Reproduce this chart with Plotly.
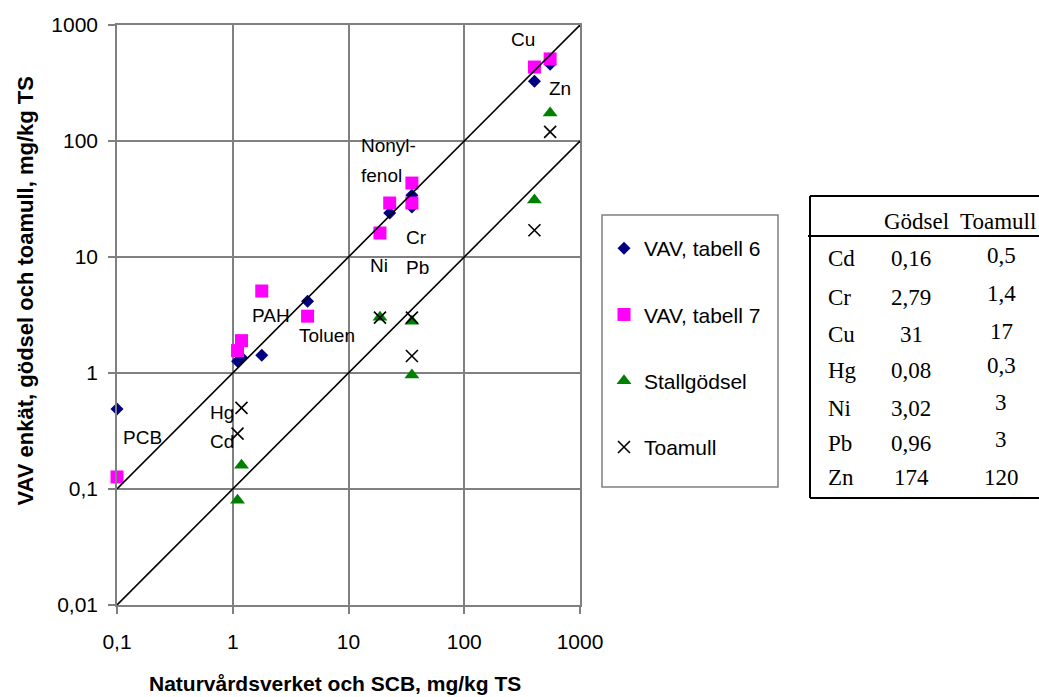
import numpy as np
import plotly.graph_objects as go

# ---------------- data ----------------
# VAV enkät, tabell 6 (x = Naturvårdsverket/SCB, y = VAV)
tab6_x = [0.1, 1.10, 1.19, 1.78, 4.43, 22.7, 35.3, 35.3, 404, 552]
tab6_y = [0.49, 1.26, 1.36, 1.42, 4.15, 23.9, 34, 27, 327, 458]

# VAV enkät, tabell 7
tab7_x = [0.1, 1.19, 1.10, 1.78, 4.43, 18.7, 22.7, 35.3, 35.3, 404, 552]
tab7_y = [0.127, 1.90, 1.56, 5.09, 3.09, 16.1, 29.2, 43.4, 29.2, 434, 510]

# Metals: Stallgödsel and Toamull
metals = ["Cd", "Cr", "Cu", "Hg", "Ni", "Pb", "Zn"]
metal_nv = [1.19, 35.3, 404, 1.10, 18.7, 35.3, 552]
godsel = [0.16, 2.79, 31, 0.08, 3.02, 0.96, 174]
toamull = [0.5, 1.4, 17, 0.3, 3, 3, 120]

# reference lines y = x and y = x/10
ref_x = [0.1, 1000]
ref_y1 = [0.1, 1000]
ref_y2 = [0.01, 100]

x_ticks = [0.1, 1, 10, 100, 1000]
x_ticktext = ["0,1", "1", "10", "100", "1000"]
y_ticks = [0.01, 0.1, 1, 10, 100, 1000]
y_ticktext = ["0,01", "0,1", "1", "10", "100", "1000"]

# point labels (text, x, y, anchor)
lbl_text = ["Cu", "Zn", "Nonyl-", "fenol", "Cr", "Ni", "Pb", "PAH", "Toluen", "PCB", "Hg", "Cd"]
lbl_x = [323, 520, 12.2, 12.2, 30.4, 14.8, 30.4, 1.40, 3.56, 0.109, 0.611, 0.611]
lbl_y = [745, 286, 91.8, 50.6, 14.7, 8.4, 8.07, 3.14, 2.11, 0.276, 0.458, 0.258]
lbl_anchor = ["center"] + ["left"] * 11

# ---------------- layout geometry ----------------
W, H = 1039, 697
ML, MR, MT, MB = 117, 459, 25, 92
PW, PH = W - ML - MR, H - MT - MB


def pxx(px):
    return (px - ML) / PW


def pxy(py):
    return (H - MB - py) / PH


SANS = "Liberation Sans, Arial, sans-serif"
SERIF = "Liberation Serif, Times New Roman, serif"
GRID = "#808080"


def fmt(v):
    return f"{v:g}".replace(".", ",")


fig = go.Figure()

fig.add_trace(go.Scatter(
    x=tab6_x, y=tab6_y, mode="markers", name="VAV, tabell 6",
    legendgroup="a",
    marker=dict(symbol="diamond", size=10, color="#000080"),
    cliponaxis=False))
fig.add_trace(go.Scatter(
    x=tab7_x, y=tab7_y, mode="markers", name="VAV, tabell 7",
    legendgroup="b",
    marker=dict(symbol="square", size=13, color="#FF00FF"),
    cliponaxis=False))
fig.add_trace(go.Scatter(
    x=metal_nv, y=godsel, mode="markers", name="Stallgödsel",
    legendgroup="c",
    marker=dict(symbol="triangle-up", size=13, color="#008000"),
    cliponaxis=False))
fig.add_trace(go.Scatter(
    x=metal_nv, y=toamull, mode="markers", name="Toamull",
    legendgroup="d",
    marker=dict(symbol="x-thin-open", size=12, color="black",
                line=dict(color="black", width=1.6)),
    cliponaxis=False))
fig.add_trace(go.Scatter(
    x=ref_x, y=ref_y1, mode="lines", showlegend=False,
    line=dict(color="black", width=1.6), hoverinfo="skip"))
fig.add_trace(go.Scatter(
    x=ref_x, y=ref_y2, mode="lines", showlegend=False,
    line=dict(color="black", width=1.6), hoverinfo="skip"))

annotations = []
for t, x, y, a in zip(lbl_text, lbl_x, lbl_y, lbl_anchor):
    annotations.append(dict(
        x=np.log10(x), y=np.log10(y), xref="x", yref="y", text=t,
        showarrow=False, xanchor=a, yanchor="middle",
        font=dict(family=SANS, size=19, color="black")))

# axis titles
annotations.append(dict(
    x=pxx(335), y=pxy(684), xref="paper", yref="paper",
    text="<b>Naturvårdsverket och SCB, mg/kg TS</b>", showarrow=False,
    xanchor="center", yanchor="middle",
    font=dict(family=SANS, size=21, color="black")))
annotations.append(dict(
    x=pxx(25), y=pxy(508), xref="paper", yref="paper",
    text="<b>VAV enkät, gödsel och toamull, mg/kg TS</b>", showarrow=False,
    textangle=-90, xanchor="center", yanchor="bottom",
    font=dict(family=SANS, size=22, color="black")))

# table
TFONT = dict(family=SERIF, size=23, color="black")
annotations.append(dict(x=pxx(916), y=pxy(221), xref="paper", yref="paper",
                        text="Gödsel", showarrow=False, xanchor="center",
                        yanchor="middle", font=TFONT))
annotations.append(dict(x=pxx(958), y=pxy(221), xref="paper", yref="paper",
                        text="Toamull", showarrow=False, xanchor="left",
                        yanchor="middle", font=TFONT))
row_y = [258, 297, 334, 370, 408, 443, 477]
row_y2 = [255, 293, 331, 365, 402, 440, 477]
for m, g, t, ry, ry2 in zip(metals, godsel, toamull, row_y, row_y2):
    annotations.append(dict(x=pxx(826), y=pxy(ry), xref="paper", yref="paper",
                            text=m, showarrow=False, xanchor="left",
                            yanchor="middle", font=TFONT))
    annotations.append(dict(x=pxx(911), y=pxy(ry), xref="paper", yref="paper",
                            text=fmt(g), showarrow=False, xanchor="center",
                            yanchor="middle", font=TFONT))
    annotations.append(dict(x=pxx(1001), y=pxy(ry2), xref="paper", yref="paper",
                            text=fmt(t), showarrow=False, xanchor="center",
                            yanchor="middle", font=TFONT))

shapes = [
    # legend frame
    dict(type="rect", xref="paper", yref="paper",
         x0=pxx(602), x1=pxx(778), y0=pxy(215), y1=pxy(487),
         line=dict(color=GRID, width=1.5), fillcolor="rgba(0,0,0,0)"),
    # table lines
    dict(type="line", xref="paper", yref="paper",
         x0=pxx(810), x1=pxx(810), y0=pxy(196), y1=pxy(498),
         line=dict(color="black", width=2)),
    dict(type="line", xref="paper", yref="paper",
         x0=pxx(810), x1=pxx(1045), y0=pxy(196), y1=pxy(196),
         line=dict(color="black", width=2)),
    dict(type="line", xref="paper", yref="paper",
         x0=pxx(808), x1=pxx(1045), y0=pxy(236), y1=pxy(236),
         line=dict(color="black", width=2)),
    dict(type="line", xref="paper", yref="paper",
         x0=pxx(810), x1=pxx(1045), y0=pxy(498), y1=pxy(498),
         line=dict(color="black", width=2)),
]

axis_common = dict(
    type="log", showgrid=True, gridcolor=GRID, gridwidth=1.5,
    showline=True, linecolor=GRID, linewidth=1.5, mirror=True,
    ticks="outside", ticklen=7, tickcolor=GRID, tickwidth=1.5,
    zeroline=False,
    tickfont=dict(family=SANS, size=21, color="black"),
)

fig.update_layout(
    width=W, height=H,
    margin=dict(l=ML, r=MR, t=MT, b=MB, pad=0),
    paper_bgcolor="white", plot_bgcolor="white",
    showlegend=True,
    legend=dict(
        x=pxx(604), y=pxy(228), xanchor="left", yanchor="top",
        xref="paper", yref="paper",
        bgcolor="rgba(0,0,0,0)", borderwidth=0,
        traceorder="grouped", tracegroupgap=36,
        font=dict(family=SANS, size=21, color="black"),
    ),
    xaxis=dict(range=[-1, 3], tickvals=x_ticks, ticktext=x_ticktext,
               ticklabelstandoff=10, **axis_common),
    yaxis=dict(range=[-2, 3], tickvals=y_ticks, ticktext=y_ticktext,
               ticklabelstandoff=6, **axis_common),
    annotations=annotations,
    shapes=shapes,
)

fig.write_html("out.html")
